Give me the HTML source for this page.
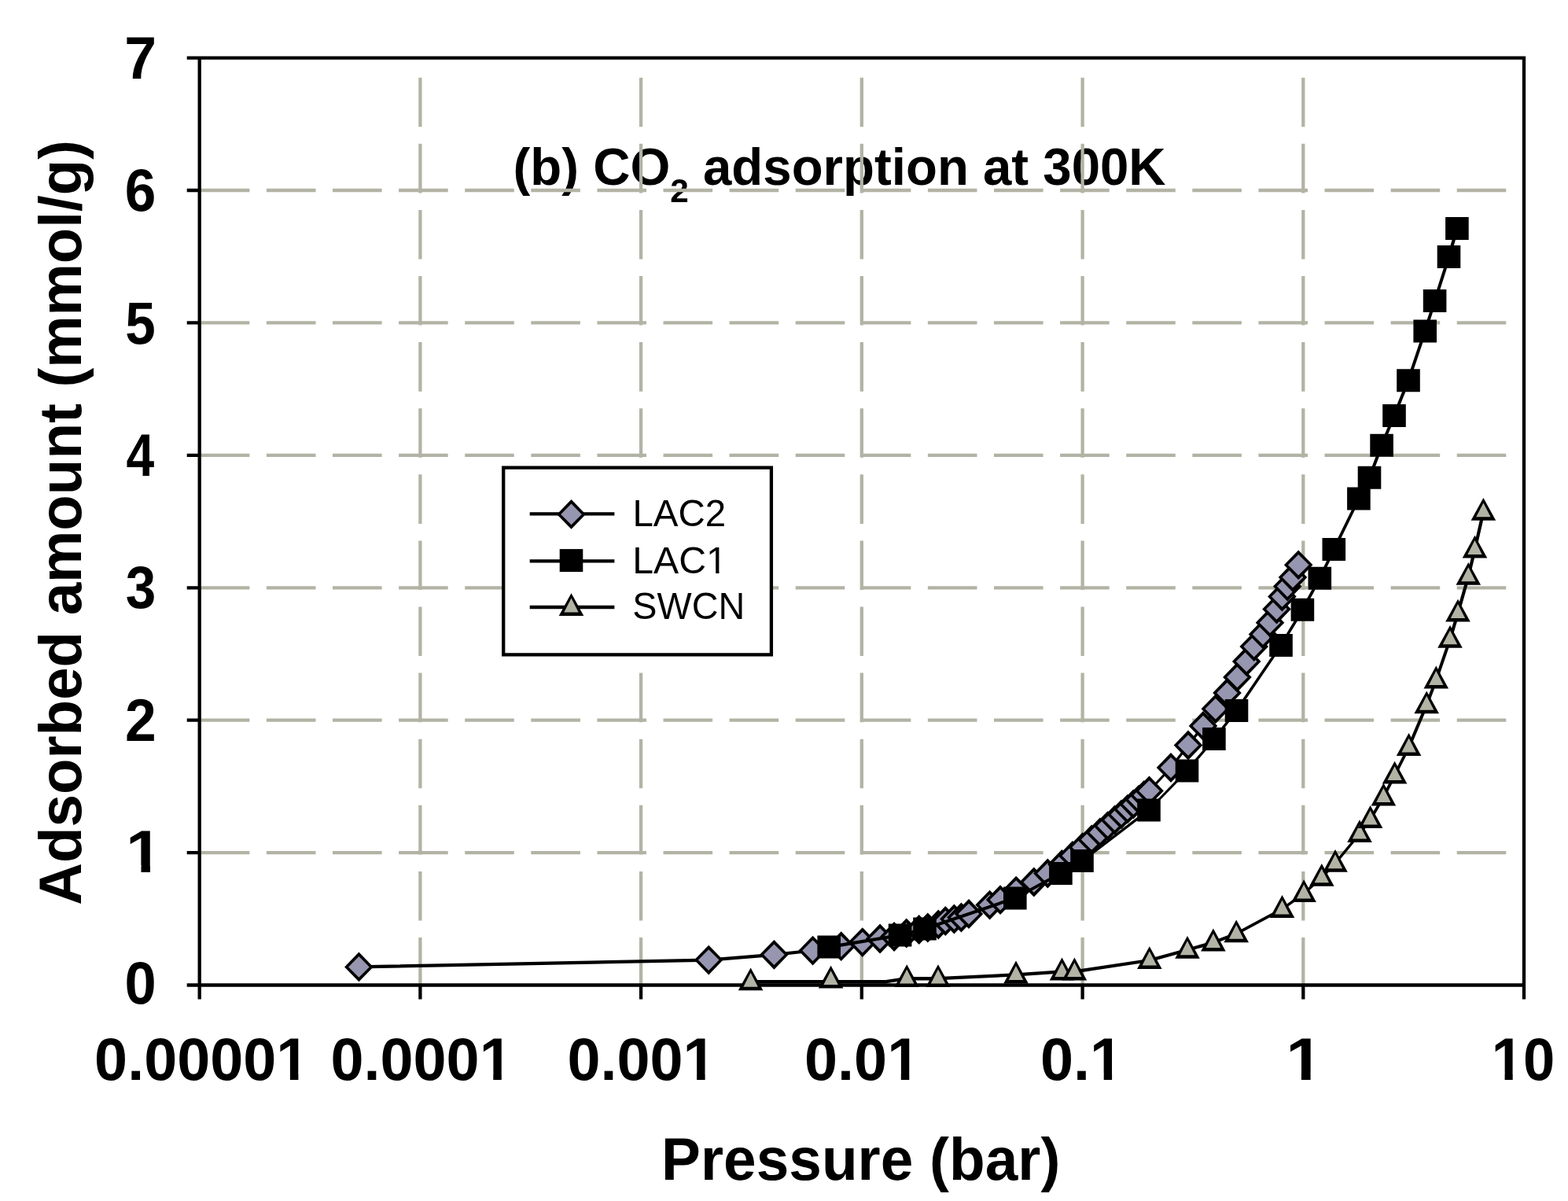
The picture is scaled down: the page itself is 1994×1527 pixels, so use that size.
<!DOCTYPE html>
<html lang="en"><head><meta charset="utf-8"><title>(b) CO2 adsorption at 300K</title>
<style>
html,body{margin:0;padding:0;background:#fff;}
body{width:1994px;height:1527px;overflow:hidden;}
svg{display:block;}
text{font-family:"Liberation Sans",Arial,Helvetica,sans-serif;fill:#000;font-kerning:none;}
.b{font-weight:bold;}
.r{font-weight:normal;}
.g{stroke:#b3b3a5;stroke-width:4.3;fill:none;}
.k{stroke:#000;stroke-width:4.3;fill:none;}
.s{stroke:#000;fill:none;stroke-linecap:round;}
.m{fill:#000;stroke:none;}
.df{fill:#9696b0;}
.tf{fill:#b3b3a5;}
.q{fill:#000;stroke:none;}
</style></head><body>
<svg width="1994" height="1527" viewBox="0 0 1994 1527">
<defs><clipPath id="c1"><path d="M799.3 680.6H929.9V724.8H914.5V743.6H910.2V724.8H898.1V743.6H804.3V724.8H799.3Z"/></clipPath><clipPath id="c2"><path d="M155.1 1032.9H211.3V1100.1H191.0V1131.2H179.5V1100.1H155.1Z"/></clipPath><clipPath id="c3"><path d="M115.1 1297.3H398.4V1364.5H379.4V1395.6H368.9V1364.5H351.3V1395.6H120.1V1364.5H115.1Z"/></clipPath><clipPath id="c4"><path d="M415.5 1297.3H656.7V1364.5H637.8V1395.6H627.3V1364.5H609.7V1395.6H420.5V1364.5H415.5Z"/></clipPath><clipPath id="c5"><path d="M716.4 1297.3H915.6V1364.5H896.6V1395.6H886.1V1364.5H868.6V1395.6H721.4V1364.5H716.4Z"/></clipPath><clipPath id="c6"><path d="M1018.1 1297.3H1175.2V1364.5H1156.3V1395.6H1145.8V1364.5H1128.2V1395.6H1023.1V1364.5H1018.1Z"/></clipPath><clipPath id="c7"><path d="M1318.0 1297.3H1433.1V1364.5H1414.1V1395.6H1403.7V1364.5H1386.1V1395.6H1323.0V1364.5H1318.0Z"/></clipPath><clipPath id="c8"><path d="M1630.2 1297.3H1687.3V1364.5H1666.6V1395.6H1654.9V1364.5H1630.2Z"/></clipPath><clipPath id="c9"><path d="M1891.7 1297.3H1982.4V1364.5H1977.4V1395.6H1937.0V1364.5H1923.7V1395.6H1913.6V1364.5H1891.7Z"/></clipPath></defs>
<rect x="0" y="0" width="1994" height="1527" fill="#fff"/>
<text class="b" font-size="66.5" x="652.6" y="235.3" textLength="830" lengthAdjust="spacingAndGlyphs">(b) CO<tspan font-size="43px" dy="22">2</tspan><tspan dy="-22"> adsorption at 300K</tspan></text>
<line class="g" x1="254.8" y1="1084.1" x2="1935.8" y2="1084.1" stroke-dasharray="62.60 21.50"/>
<line class="g" x1="254.8" y1="915.7" x2="1935.8" y2="915.7" stroke-dasharray="62.60 21.50"/>
<line class="g" x1="254.8" y1="747.3" x2="1935.8" y2="747.3" stroke-dasharray="62.60 21.50"/>
<line class="g" x1="254.8" y1="578.8" x2="1935.8" y2="578.8" stroke-dasharray="62.60 21.50"/>
<line class="g" x1="254.8" y1="410.4" x2="1935.8" y2="410.4" stroke-dasharray="62.60 21.50"/>
<line class="g" x1="254.8" y1="242.0" x2="1935.8" y2="242.0" stroke-dasharray="62.60 21.50"/>
<line class="g" x1="534.4" y1="1254.6" x2="534.4" y2="79.6" stroke-dasharray="62.60 21.50"/>
<line class="g" x1="815.1" y1="1254.6" x2="815.1" y2="79.6" stroke-dasharray="62.60 21.50"/>
<line class="g" x1="1095.8" y1="1254.6" x2="1095.8" y2="79.6" stroke-dasharray="62.60 21.50"/>
<line class="g" x1="1376.6" y1="1254.6" x2="1376.6" y2="79.6" stroke-dasharray="62.60 21.50"/>
<line class="g" x1="1657.3" y1="1254.6" x2="1657.3" y2="79.6" stroke-dasharray="62.60 21.50"/>
<path class="k" d="M237.7 73.6 H1938.0 V1270.5M253.7 73.6 V1270.5M237.7 1252.5 H1938.0M237.7 1084.1 H253.7M237.7 915.7 H253.7M237.7 747.3 H253.7M237.7 578.8 H253.7M237.7 410.4 H253.7M237.7 242.0 H253.7M534.4 1252.5 V1270.5M815.1 1252.5 V1270.5M1095.8 1252.5 V1270.5M1376.6 1252.5 V1270.5M1657.3 1252.5 V1270.5"/>
<g class="s"><path stroke-width="3.2" d="M1363.9 1087.9L1376.6 1077.2M1376.6 1077.2L1388.2 1067.4M1388.2 1067.4L1398.8 1058.4M1398.8 1058.4L1408.6 1050.1M1408.6 1050.1L1417.6 1042.5M1417.6 1042.5L1426.0 1035.4M1426.0 1035.4L1433.9 1028.7M1433.9 1028.7L1441.3 1022.5M1441.3 1022.5L1448.2 1016.6M1448.2 1016.6L1454.8 1011.0M1461.5 1005.5L1489.0 976.0"/><path stroke-width="3.4" d="M1350.4 1099.0L1363.9 1087.9M1454.8 1011.0L1461.5 1005.5M1489.0 976.0L1511.0 947.5M1511.0 947.5L1530.0 923.0M1530.0 923.0L1545.8 901.3M1545.8 901.3L1560.5 881.0M1594.7 822.1L1606.0 806.4"/><path stroke-width="3.6" d="M1314.8 1121.5L1332.3 1110.5M1332.3 1110.5L1350.4 1099.0M1560.5 881.0L1573.4 861.0M1606.0 806.4L1615.0 791.7"/><path stroke-width="3.8" d="M1193.3 1175.5L1202.3 1171.0M1222.4 1166.5L1232.0 1162.0M1258.6 1150.6L1272.1 1144.1M1272.1 1144.1L1292.2 1132.6M1292.2 1132.6L1314.8 1121.5M1573.4 861.0L1585.2 841.0M1585.2 841.0L1594.7 822.1M1615.0 791.7L1623.5 774.5M1630.4 758.5L1637.2 745.6M1637.2 745.6L1644.0 734.0"/><path stroke-width="4.0" d="M1232.0 1162.0L1258.6 1150.6M1623.5 774.5L1630.4 758.5M1644.0 734.0L1651.2 718.3"/><path stroke-width="4.2" d="M456.4 1229.4L901.2 1220.6M901.2 1220.6L984.4 1213.8M984.4 1213.8L1033.6 1208.6M1033.6 1208.6L1069.7 1203.2M1069.7 1203.2L1096.8 1198.1M1096.8 1198.1L1119.1 1193.5M1119.1 1193.5L1137.1 1191.0M1137.1 1191.0L1152.7 1186.5M1152.7 1186.5L1168.7 1182.0M1168.7 1182.0L1179.8 1179.5M1179.8 1179.5L1193.3 1175.5M1202.3 1171.0L1213.4 1168.5M1213.4 1168.5L1222.4 1166.5"/></g>
<g class="m"><path d="M456.4 1210.5L474.7 1229.4L456.4 1248.3L438.1 1229.4Z"/><path class="df" d="M456.4 1216.1L469.7 1229.4L456.4 1242.7L443.1 1229.4Z"/><path d="M901.2 1201.7L919.5 1220.6L901.2 1239.5L882.9 1220.6Z"/><path class="df" d="M901.2 1207.3L914.5 1220.6L901.2 1233.9L887.9 1220.6Z"/><path d="M984.4 1194.9L1002.7 1213.8L984.4 1232.7L966.1 1213.8Z"/><path class="df" d="M984.4 1200.5L997.7 1213.8L984.4 1227.1L971.1 1213.8Z"/><path d="M1033.6 1189.7L1051.9 1208.6L1033.6 1227.5L1015.3 1208.6Z"/><path class="df" d="M1033.6 1195.3L1046.9 1208.6L1033.6 1221.9L1020.3 1208.6Z"/><path d="M1069.7 1184.3L1088.0 1203.2L1069.7 1222.1L1051.4 1203.2Z"/><path class="df" d="M1069.7 1189.9L1083.0 1203.2L1069.7 1216.5L1056.4 1203.2Z"/><path d="M1096.8 1179.2L1115.1 1198.1L1096.8 1217.0L1078.5 1198.1Z"/><path class="df" d="M1096.8 1184.8L1110.1 1198.1L1096.8 1211.4L1083.5 1198.1Z"/><path d="M1119.1 1174.6L1137.4 1193.5L1119.1 1212.4L1100.8 1193.5Z"/><path class="df" d="M1119.1 1180.2L1132.4 1193.5L1119.1 1206.8L1105.8 1193.5Z"/><path d="M1137.1 1172.1L1155.4 1191.0L1137.1 1209.9L1118.8 1191.0Z"/><path class="df" d="M1137.1 1177.7L1150.4 1191.0L1137.1 1204.3L1123.8 1191.0Z"/><path d="M1152.7 1167.6L1171.0 1186.5L1152.7 1205.4L1134.4 1186.5Z"/><path class="df" d="M1152.7 1173.2L1166.0 1186.5L1152.7 1199.8L1139.4 1186.5Z"/><path d="M1168.7 1163.1L1187.0 1182.0L1168.7 1200.9L1150.4 1182.0Z"/><path class="df" d="M1168.7 1168.7L1182.0 1182.0L1168.7 1195.3L1155.4 1182.0Z"/><path d="M1179.8 1160.6L1198.1 1179.5L1179.8 1198.4L1161.5 1179.5Z"/><path class="df" d="M1179.8 1166.2L1193.1 1179.5L1179.8 1192.8L1166.5 1179.5Z"/><path d="M1193.3 1156.6L1211.6 1175.5L1193.3 1194.4L1175.0 1175.5Z"/><path class="df" d="M1193.3 1162.2L1206.6 1175.5L1193.3 1188.8L1180.0 1175.5Z"/><path d="M1202.3 1152.1L1220.6 1171.0L1202.3 1189.9L1184.0 1171.0Z"/><path class="df" d="M1202.3 1157.7L1215.6 1171.0L1202.3 1184.3L1189.0 1171.0Z"/><path d="M1213.4 1149.6L1231.7 1168.5L1213.4 1187.4L1195.1 1168.5Z"/><path class="df" d="M1213.4 1155.2L1226.7 1168.5L1213.4 1181.8L1200.1 1168.5Z"/><path d="M1222.4 1147.6L1240.7 1166.5L1222.4 1185.4L1204.1 1166.5Z"/><path class="df" d="M1222.4 1153.2L1235.7 1166.5L1222.4 1179.8L1209.1 1166.5Z"/><path d="M1232.0 1143.1L1250.3 1162.0L1232.0 1180.9L1213.7 1162.0Z"/><path class="df" d="M1232.0 1148.7L1245.3 1162.0L1232.0 1175.3L1218.7 1162.0Z"/><path d="M1258.6 1131.7L1276.9 1150.6L1258.6 1169.5L1240.3 1150.6Z"/><path class="df" d="M1258.6 1137.3L1271.9 1150.6L1258.6 1163.9L1245.3 1150.6Z"/><path d="M1272.1 1125.2L1290.4 1144.1L1272.1 1163.0L1253.8 1144.1Z"/><path class="df" d="M1272.1 1130.8L1285.4 1144.1L1272.1 1157.4L1258.8 1144.1Z"/><path d="M1292.2 1113.7L1310.5 1132.6L1292.2 1151.5L1273.9 1132.6Z"/><path class="df" d="M1292.2 1119.3L1305.5 1132.6L1292.2 1145.9L1278.9 1132.6Z"/><path d="M1314.8 1102.6L1333.1 1121.5L1314.8 1140.4L1296.5 1121.5Z"/><path class="df" d="M1314.8 1108.2L1328.1 1121.5L1314.8 1134.8L1301.5 1121.5Z"/><path d="M1332.3 1091.6L1350.6 1110.5L1332.3 1129.4L1314.0 1110.5Z"/><path class="df" d="M1332.3 1097.2L1345.6 1110.5L1332.3 1123.8L1319.0 1110.5Z"/><path d="M1350.4 1080.1L1368.7 1099.0L1350.4 1117.9L1332.1 1099.0Z"/><path class="df" d="M1350.4 1085.7L1363.7 1099.0L1350.4 1112.3L1337.1 1099.0Z"/><path d="M1363.9 1069.0L1382.2 1087.9L1363.9 1106.8L1345.6 1087.9Z"/><path class="df" d="M1363.9 1074.6L1377.2 1087.9L1363.9 1101.2L1350.6 1087.9Z"/><path d="M1376.6 1058.3L1394.9 1077.2L1376.6 1096.1L1358.3 1077.2Z"/><path class="df" d="M1376.6 1063.9L1389.9 1077.2L1376.6 1090.5L1363.3 1077.2Z"/><path d="M1388.2 1048.5L1406.5 1067.4L1388.2 1086.3L1369.9 1067.4Z"/><path class="df" d="M1388.2 1054.1L1401.5 1067.4L1388.2 1080.7L1374.9 1067.4Z"/><path d="M1398.8 1039.5L1417.1 1058.4L1398.8 1077.3L1380.5 1058.4Z"/><path class="df" d="M1398.8 1045.1L1412.1 1058.4L1398.8 1071.7L1385.5 1058.4Z"/><path d="M1408.6 1031.2L1426.9 1050.1L1408.6 1069.0L1390.3 1050.1Z"/><path class="df" d="M1408.6 1036.8L1421.9 1050.1L1408.6 1063.4L1395.3 1050.1Z"/><path d="M1417.6 1023.6L1435.9 1042.5L1417.6 1061.4L1399.3 1042.5Z"/><path class="df" d="M1417.6 1029.2L1430.9 1042.5L1417.6 1055.8L1404.3 1042.5Z"/><path d="M1426.0 1016.5L1444.3 1035.4L1426.0 1054.3L1407.7 1035.4Z"/><path class="df" d="M1426.0 1022.1L1439.3 1035.4L1426.0 1048.7L1412.7 1035.4Z"/><path d="M1433.9 1009.8L1452.2 1028.7L1433.9 1047.6L1415.6 1028.7Z"/><path class="df" d="M1433.9 1015.4L1447.2 1028.7L1433.9 1042.0L1420.6 1028.7Z"/><path d="M1441.3 1003.6L1459.6 1022.5L1441.3 1041.4L1423.0 1022.5Z"/><path class="df" d="M1441.3 1009.2L1454.6 1022.5L1441.3 1035.8L1428.0 1022.5Z"/><path d="M1448.2 997.7L1466.5 1016.6L1448.2 1035.5L1429.9 1016.6Z"/><path class="df" d="M1448.2 1003.3L1461.5 1016.6L1448.2 1029.9L1434.9 1016.6Z"/><path d="M1454.8 992.1L1473.1 1011.0L1454.8 1029.9L1436.5 1011.0Z"/><path class="df" d="M1454.8 997.7L1468.1 1011.0L1454.8 1024.3L1441.5 1011.0Z"/><path d="M1461.5 986.6L1479.8 1005.5L1461.5 1024.4L1443.2 1005.5Z"/><path class="df" d="M1461.5 992.2L1474.8 1005.5L1461.5 1018.8L1448.2 1005.5Z"/><path d="M1489.0 957.1L1507.3 976.0L1489.0 994.9L1470.7 976.0Z"/><path class="df" d="M1489.0 962.7L1502.3 976.0L1489.0 989.3L1475.7 976.0Z"/><path d="M1511.0 928.6L1529.3 947.5L1511.0 966.4L1492.7 947.5Z"/><path class="df" d="M1511.0 934.2L1524.3 947.5L1511.0 960.8L1497.7 947.5Z"/><path d="M1530.0 904.1L1548.3 923.0L1530.0 941.9L1511.7 923.0Z"/><path class="df" d="M1530.0 909.7L1543.3 923.0L1530.0 936.3L1516.7 923.0Z"/><path d="M1545.8 882.4L1564.1 901.3L1545.8 920.2L1527.5 901.3Z"/><path class="df" d="M1545.8 888.0L1559.1 901.3L1545.8 914.6L1532.5 901.3Z"/><path d="M1560.5 862.1L1578.8 881.0L1560.5 899.9L1542.2 881.0Z"/><path class="df" d="M1560.5 867.7L1573.8 881.0L1560.5 894.3L1547.2 881.0Z"/><path d="M1573.4 842.1L1591.7 861.0L1573.4 879.9L1555.1 861.0Z"/><path class="df" d="M1573.4 847.7L1586.7 861.0L1573.4 874.3L1560.1 861.0Z"/><path d="M1585.2 822.1L1603.5 841.0L1585.2 859.9L1566.9 841.0Z"/><path class="df" d="M1585.2 827.7L1598.5 841.0L1585.2 854.3L1571.9 841.0Z"/><path d="M1594.7 803.2L1613.0 822.1L1594.7 841.0L1576.4 822.1Z"/><path class="df" d="M1594.7 808.8L1608.0 822.1L1594.7 835.4L1581.4 822.1Z"/><path d="M1606.0 787.5L1624.3 806.4L1606.0 825.3L1587.7 806.4Z"/><path class="df" d="M1606.0 793.1L1619.3 806.4L1606.0 819.7L1592.7 806.4Z"/><path d="M1615.0 772.8L1633.3 791.7L1615.0 810.6L1596.7 791.7Z"/><path class="df" d="M1615.0 778.4L1628.3 791.7L1615.0 805.0L1601.7 791.7Z"/><path d="M1623.5 755.6L1641.8 774.5L1623.5 793.4L1605.2 774.5Z"/><path class="df" d="M1623.5 761.2L1636.8 774.5L1623.5 787.8L1610.2 774.5Z"/><path d="M1630.4 739.6L1648.7 758.5L1630.4 777.4L1612.1 758.5Z"/><path class="df" d="M1630.4 745.2L1643.7 758.5L1630.4 771.8L1617.1 758.5Z"/><path d="M1637.2 726.7L1655.5 745.6L1637.2 764.5L1618.9 745.6Z"/><path class="df" d="M1637.2 732.3L1650.5 745.6L1637.2 758.9L1623.9 745.6Z"/><path d="M1644.0 715.1L1662.3 734.0L1644.0 752.9L1625.7 734.0Z"/><path class="df" d="M1644.0 720.7L1657.3 734.0L1644.0 747.3L1630.7 734.0Z"/><path d="M1651.2 699.4L1669.5 718.3L1651.2 737.2L1632.9 718.3Z"/><path class="df" d="M1651.2 705.0L1664.5 718.3L1651.2 731.6L1637.9 718.3Z"/></g>
<g class="s"><path stroke-width="3.0" d="M1461.0 1029.9L1509.5 979.9"/><path stroke-width="3.2" d="M1509.5 979.9L1543.9 939.6"/><path stroke-width="3.4" d="M1376.0 1094.6L1461.0 1029.9M1543.9 939.6L1572.5 903.5"/><path stroke-width="3.6" d="M1572.5 903.5L1629.0 820.6M1629.0 820.6L1656.4 775.3"/><path stroke-width="3.8" d="M1290.8 1141.9L1348.9 1110.5M1348.9 1110.5L1376.0 1094.6M1656.4 775.3L1678.3 735.3M1678.3 735.3L1696.3 698.6M1696.3 698.6L1727.9 634.0M1727.9 634.0L1741.5 607.2"/><path stroke-width="4.0" d="M1176.0 1181.0L1290.8 1141.9M1741.5 607.2L1757.1 566.2M1757.1 566.2L1773.0 528.5M1773.0 528.5L1791.0 483.7M1791.0 483.7L1812.2 420.9M1812.2 420.9L1824.6 382.6M1824.6 382.6L1842.5 326.6"/><path stroke-width="4.2" d="M1054.2 1204.1L1144.6 1189.0M1144.6 1189.0L1176.0 1181.0M1842.5 326.6L1852.9 290.4"/></g>
<path class="q" d="M1039.4 1189.6h29.6v29.0h-29.6ZM1129.8 1174.5h29.6v29.0h-29.6ZM1161.2 1166.5h29.6v29.0h-29.6ZM1276.0 1127.4h29.6v29.0h-29.6ZM1334.1 1096.0h29.6v29.0h-29.6ZM1361.2 1080.1h29.6v29.0h-29.6ZM1446.2 1015.4h29.6v29.0h-29.6ZM1494.7 965.4h29.6v29.0h-29.6ZM1529.1 925.1h29.6v29.0h-29.6ZM1557.7 889.0h29.6v29.0h-29.6ZM1614.2 806.1h29.6v29.0h-29.6ZM1641.6 760.8h29.6v29.0h-29.6ZM1663.5 720.8h29.6v29.0h-29.6ZM1681.5 684.1h29.6v29.0h-29.6ZM1713.1 619.5h29.6v29.0h-29.6ZM1726.7 592.7h29.6v29.0h-29.6ZM1742.3 551.7h29.6v29.0h-29.6ZM1758.2 514.0h29.6v29.0h-29.6ZM1776.2 469.2h29.6v29.0h-29.6ZM1797.4 406.4h29.6v29.0h-29.6ZM1809.8 368.1h29.6v29.0h-29.6ZM1827.7 312.1h29.6v29.0h-29.6ZM1838.1 275.9h29.6v29.0h-29.6Z"/>
<g class="s"><path stroke-width="3.2" d="M1658.1 1136.0L1680.8 1115.8M1680.8 1115.8L1698.0 1097.7"/><path stroke-width="3.4" d="M1630.5 1155.9L1658.1 1136.0M1698.0 1097.7L1729.0 1060.0M1729.0 1060.0L1742.6 1041.9"/><path stroke-width="3.8" d="M1572.2 1187.2L1630.5 1155.9M1742.6 1041.9L1759.4 1013.4M1759.4 1013.4L1773.6 985.6M1773.6 985.6L1791.6 949.9"/><path stroke-width="4.0" d="M1542.9 1198.4L1572.2 1187.2M1791.6 949.9L1814.2 896.2M1814.2 896.2L1826.3 864.4M1826.3 864.4L1844.0 812.8"/><path stroke-width="4.2" d="M1125.0 1248.3L1153.2 1244.2M1193.0 1244.2L1292.0 1239.4M1292.0 1239.4L1350.5 1235.4M1366.4 1235.4L1461.8 1221.0M1461.8 1221.0L1510.0 1207.7M1510.0 1207.7L1542.9 1198.4M1844.0 812.8L1854.0 779.5M1854.0 779.5L1867.3 732.7M1867.3 732.7L1875.5 698.5M1875.5 698.5L1886.4 650.8"/><path stroke-width="4.4" d="M954.6 1248.3L1056.6 1248.3M1056.6 1248.3L1125.0 1248.3M1153.2 1244.2L1193.0 1244.2M1350.5 1235.4L1366.4 1235.4"/></g>
<g class="m"><path d="M954.6 1230.4L970.4 1259.2L938.8 1259.2Z"/><path class="tf" d="M954.6 1236.8L963.8 1254.7L945.4 1254.7Z"/><path d="M1056.6 1227.8L1072.4 1256.6L1040.8 1256.6Z"/><path class="tf" d="M1056.6 1234.2L1065.8 1252.1L1047.4 1252.1Z"/><path d="M1153.2 1226.2L1169.0 1255.0L1137.4 1255.0Z"/><path class="tf" d="M1153.2 1232.6L1162.4 1250.5L1144.0 1250.5Z"/><path d="M1193.0 1226.2L1208.8 1255.0L1177.2 1255.0Z"/><path class="tf" d="M1193.0 1232.6L1202.2 1250.5L1183.8 1250.5Z"/><path d="M1292.0 1221.6L1307.8 1250.4L1276.2 1250.4Z"/><path class="tf" d="M1292.0 1228.0L1301.2 1245.9L1282.8 1245.9Z"/><path d="M1350.5 1217.6L1366.3 1246.4L1334.7 1246.4Z"/><path class="tf" d="M1350.5 1224.0L1359.7 1241.9L1341.3 1241.9Z"/><path d="M1366.4 1217.6L1382.2 1246.4L1350.6 1246.4Z"/><path class="tf" d="M1366.4 1224.0L1375.6 1241.9L1357.2 1241.9Z"/><path d="M1461.8 1203.2L1477.6 1232.0L1446.0 1232.0Z"/><path class="tf" d="M1461.8 1209.6L1471.0 1227.5L1452.6 1227.5Z"/><path d="M1510.0 1189.9L1525.8 1218.7L1494.2 1218.7Z"/><path class="tf" d="M1510.0 1196.3L1519.2 1214.2L1500.8 1214.2Z"/><path d="M1542.9 1180.6L1558.7 1209.4L1527.1 1209.4Z"/><path class="tf" d="M1542.9 1187.0L1552.1 1204.9L1533.7 1204.9Z"/><path d="M1572.2 1169.4L1588.0 1198.2L1556.4 1198.2Z"/><path class="tf" d="M1572.2 1175.8L1581.4 1193.7L1563.0 1193.7Z"/><path d="M1630.5 1138.1L1646.3 1166.9L1614.7 1166.9Z"/><path class="tf" d="M1630.5 1144.5L1639.7 1162.4L1621.3 1162.4Z"/><path d="M1658.1 1118.2L1673.9 1147.0L1642.3 1147.0Z"/><path class="tf" d="M1658.1 1124.6L1667.3 1142.5L1648.9 1142.5Z"/><path d="M1680.8 1098.0L1696.6 1126.8L1665.0 1126.8Z"/><path class="tf" d="M1680.8 1104.4L1690.0 1122.3L1671.6 1122.3Z"/><path d="M1698.0 1079.9L1713.8 1108.7L1682.2 1108.7Z"/><path class="tf" d="M1698.0 1086.3L1707.2 1104.2L1688.8 1104.2Z"/><path d="M1729.0 1042.2L1744.8 1071.0L1713.2 1071.0Z"/><path class="tf" d="M1729.0 1048.6L1738.2 1066.5L1719.8 1066.5Z"/><path d="M1742.6 1024.1L1758.4 1052.9L1726.8 1052.9Z"/><path class="tf" d="M1742.6 1030.5L1751.8 1048.4L1733.4 1048.4Z"/><path d="M1759.4 995.6L1775.2 1024.4L1743.6 1024.4Z"/><path class="tf" d="M1759.4 1002.0L1768.6 1019.9L1750.2 1019.9Z"/><path d="M1773.6 967.8L1789.4 996.6L1757.8 996.6Z"/><path class="tf" d="M1773.6 974.2L1782.8 992.1L1764.4 992.1Z"/><path d="M1791.6 932.1L1807.4 960.9L1775.8 960.9Z"/><path class="tf" d="M1791.6 938.5L1800.8 956.4L1782.4 956.4Z"/><path d="M1814.2 878.4L1830.0 907.2L1798.4 907.2Z"/><path class="tf" d="M1814.2 884.8L1823.4 902.7L1805.0 902.7Z"/><path d="M1826.3 846.6L1842.1 875.4L1810.5 875.4Z"/><path class="tf" d="M1826.3 853.0L1835.5 870.9L1817.1 870.9Z"/><path d="M1844.0 795.0L1859.8 823.8L1828.2 823.8Z"/><path class="tf" d="M1844.0 801.4L1853.2 819.3L1834.8 819.3Z"/><path d="M1854.0 761.7L1869.8 790.5L1838.2 790.5Z"/><path class="tf" d="M1854.0 768.1L1863.2 786.0L1844.8 786.0Z"/><path d="M1867.3 714.9L1883.1 743.7L1851.5 743.7Z"/><path class="tf" d="M1867.3 721.3L1876.5 739.2L1858.1 739.2Z"/><path d="M1875.5 680.7L1891.3 709.5L1859.7 709.5Z"/><path class="tf" d="M1875.5 687.1L1884.7 705.0L1866.3 705.0Z"/><path d="M1886.4 633.0L1902.2 661.8L1870.6 661.8Z"/><path class="tf" d="M1886.4 639.4L1895.6 657.3L1877.2 657.3Z"/></g>
<rect x="640.2" y="594.6" width="340.7" height="237.8" fill="#fff" stroke="#000" stroke-width="4.3"/>
<line class="k" x1="673.7" y1="653.3" x2="781.4" y2="653.3"/>
<line class="k" x1="673.7" y1="713.3" x2="781.4" y2="713.3"/>
<line class="k" x1="673.7" y1="772.0" x2="781.4" y2="772.0"/>
<g class="m"><path d="M726.5 635.0L744.8 653.9L726.5 672.8L708.2 653.9Z"/><path class="df" d="M726.5 640.6L739.8 653.9L726.5 667.2L713.2 653.9Z"/></g>
<path class="q" d="M711.7 698.1h29.6v29.0h-29.6Z"/>
<g class="m"><path d="M726.5 754.2L742.3 783.0L710.7 783.0Z"/><path class="tf" d="M726.5 760.6L735.7 778.5L717.3 778.5Z"/></g>
<text class="r" x="804.4" y="668.7" textLength="118.7" lengthAdjust="spacingAndGlyphs" font-size="48.5">LAC2</text>
<text class="r" x="804.3" y="729.1" textLength="120.6" lengthAdjust="spacingAndGlyphs" font-size="48.5" clip-path="url(#c1)">LAC1</text>
<text class="r" x="804.3" y="787.4" textLength="142.9" lengthAdjust="spacingAndGlyphs" font-size="48.5">SWCN</text>
<text class="b" x="158.5" y="1276.2" textLength="40.2" lengthAdjust="spacingAndGlyphs" font-size="75.6">0</text>
<text class="b" x="160.1" y="1108.5" textLength="46.2" lengthAdjust="spacingAndGlyphs" font-size="75.6" clip-path="url(#c2)">1</text>
<text class="b" x="158.9" y="941.7" textLength="39.7" lengthAdjust="spacingAndGlyphs" font-size="75.6">2</text>
<text class="b" x="159.8" y="772.8" textLength="38.5" lengthAdjust="spacingAndGlyphs" font-size="75.6">3</text>
<text class="b" x="160.4" y="605.0" textLength="35.7" lengthAdjust="spacingAndGlyphs" font-size="75.6">4</text>
<text class="b" x="159.3" y="436.6" textLength="38.5" lengthAdjust="spacingAndGlyphs" font-size="75.6">5</text>
<text class="b" x="158.8" y="268.0" textLength="39.6" lengthAdjust="spacingAndGlyphs" font-size="75.6">6</text>
<text class="b" x="158.2" y="100.2" textLength="40.8" lengthAdjust="spacingAndGlyphs" font-size="75.6">7</text>
<text class="b" x="120.1" y="1372.9" textLength="273.3" lengthAdjust="spacingAndGlyphs" font-size="75.6" clip-path="url(#c3)">0.00001</text>
<text class="b" x="420.5" y="1372.9" textLength="231.2" lengthAdjust="spacingAndGlyphs" font-size="75.6" clip-path="url(#c4)">0.0001</text>
<text class="b" x="721.4" y="1372.9" textLength="189.2" lengthAdjust="spacingAndGlyphs" font-size="75.6" clip-path="url(#c5)">0.001</text>
<text class="b" x="1023.1" y="1372.9" textLength="147.1" lengthAdjust="spacingAndGlyphs" font-size="75.6" clip-path="url(#c6)">0.01</text>
<text class="b" x="1323.0" y="1372.9" textLength="105.1" lengthAdjust="spacingAndGlyphs" font-size="75.6" clip-path="url(#c7)">0.1</text>
<text class="b" x="1635.2" y="1372.9" textLength="47.1" lengthAdjust="spacingAndGlyphs" font-size="75.6" clip-path="url(#c8)">1</text>
<text class="b" x="1896.7" y="1372.9" textLength="80.6" lengthAdjust="spacingAndGlyphs" font-size="75.6" clip-path="url(#c9)">10</text>
<text class="b" x="841.1" y="1499.5" textLength="507.2" lengthAdjust="spacingAndGlyphs" font-size="75.5">Pressure (bar)</text>
<g transform="rotate(-90)"><text class="b" x="-1150.8" y="103.4" textLength="972.8" lengthAdjust="spacingAndGlyphs" font-size="75.5">Adsorbed amount (mmol/g)</text></g>
</svg></body></html>
